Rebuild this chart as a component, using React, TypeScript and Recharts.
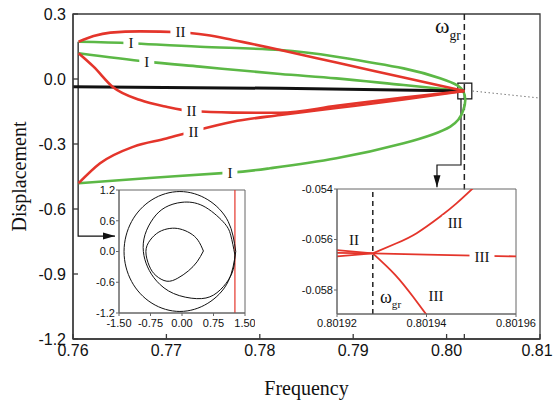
import React from "react";
import {
  ComposedChart,
  Line,
  Scatter,
  XAxis,
  YAxis,
  ReferenceLine,
  ReferenceArea,
  ReferenceDot,
} from "recharts";

const RED = "#e4352b";
const GREEN = "#5cb846";
const AXIS = "#3a3a3a";
const SERIF = "'Liberation Serif', 'Times New Roman', serif";
const SANS = "'Liberation Sans', Arial, sans-serif";

// main plot ticks
const xTicks = [0.76, 0.77, 0.78, 0.79, 0.8, 0.81, 0.8019];
const yTicks = [0.3, 0, -0.3, -0.6, -0.9, -1.2];
const omegaGr = 0.8019;

// branches of the frequency response
const redUpperII = [
  { x: 0.7606, y: 0.172 }, { x: 0.7622, y: 0.198 }, { x: 0.764, y: 0.214 },
  { x: 0.7672, y: 0.22 }, { x: 0.7715, y: 0.216 }, { x: 0.7743, y: 0.203 },
  { x: 0.7771, y: 0.18 }, { x: 0.7822, y: 0.134 }, { x: 0.7882, y: 0.076 },
  { x: 0.7954, y: 0.007 }, { x: 0.8019, y: -0.0555 },
];
const redLowerIIa = [
  { x: 0.7606, y: 0.119 }, { x: 0.7622, y: 0.057 }, { x: 0.7643, y: -0.038 },
  { x: 0.7672, y: -0.097 }, { x: 0.77, y: -0.128 }, { x: 0.7727, y: -0.148 },
  { x: 0.7771, y: -0.155 }, { x: 0.7822, y: -0.156 }, { x: 0.7882, y: -0.124 },
  { x: 0.7954, y: -0.086 }, { x: 0.8019, y: -0.0555 },
];
const redLowerIIb = [
  { x: 0.7606, y: -0.481 }, { x: 0.7629, y: -0.389 }, { x: 0.7665, y: -0.312 },
  { x: 0.77, y: -0.275 }, { x: 0.7727, y: -0.243 }, { x: 0.7771, y: -0.197 },
  { x: 0.7822, y: -0.166 }, { x: 0.7882, y: -0.134 }, { x: 0.7954, y: -0.095 },
  { x: 0.8019, y: -0.0555 },
];
const greenOuterI = [
  { x: 0.7606, y: 0.172 }, { x: 0.7662, y: 0.165 }, { x: 0.7736, y: 0.149 },
  { x: 0.7822, y: 0.134 }, { x: 0.7882, y: 0.103 }, { x: 0.7954, y: 0.049 },
  { x: 0.7993, y: 0.003 }, { x: 0.8011, y: -0.028 }, { x: 0.8018, y: -0.058 },
  { x: 0.802, y: -0.097 }, { x: 0.8018, y: -0.143 }, { x: 0.8004, y: -0.22 },
  { x: 0.7954, y: -0.297 }, { x: 0.7882, y: -0.366 }, { x: 0.7811, y: -0.412 },
  { x: 0.7768, y: -0.432 }, { x: 0.7682, y: -0.457 }, { x: 0.7606, y: -0.481 },
];
const greenInnerI = [
  { x: 0.7606, y: 0.119 }, { x: 0.7679, y: 0.08 }, { x: 0.7736, y: 0.057 },
  { x: 0.7822, y: 0.023 }, { x: 0.7882, y: 0.003 }, { x: 0.7954, y: -0.028 },
  { x: 0.8019, y: -0.0555 },
];
const blackBranch = [{ x: 0.76, y: -0.036 }, { x: 0.7822, y: -0.043 }, { x: 0.8019, y: -0.0555 }];
const dottedBranch = [{ x: 0.8028, y: -0.0556 }, { x: 0.81, y: -0.088 }];

const mainLabels = [
  { x: 0.7715, y: 0.2155, text: "II" },
  { x: 0.7727, y: -0.148, text: "II" },
  { x: 0.7729, y: -0.243, text: "II" },
  { x: 0.7662, y: 0.165, text: "I" },
  { x: 0.7679, y: 0.08, text: "I" },
  { x: 0.7768, y: -0.432, text: "I" },
];
const mainOmega = [{ x: 0.79876, y: 0.212 }];

// annotation arrows
const leftArrow = [{ x: 0.76055, y: 0.172 }, { x: 0.76055, y: -0.725 }, { x: 0.7645, y: -0.725 }];
const rightArrow = [
  { x: 0.80154, y: -0.0923 }, { x: 0.80154, y: -0.397 },
  { x: 0.79897, y: -0.397 }, { x: 0.79897, y: -0.5 },
];

// inset 1: phase portrait
const phaseXTicks = [-1.5, -0.75, 0, 0.75, 1.5];
const phaseYTicks = [-1.2, -0.6, 0, 0.6, 1.2];
const sectionX = 1.26;
const outerLoop = [
  { x: 1.28, y: 0 }, { x: 1.1, y: 0.585 }, { x: 0.615, y: 1.01 }, { x: -0.05, y: 1.17 },
  { x: -0.715, y: 1.01 }, { x: -1.2, y: 0.585 }, { x: -1.38, y: 0 }, { x: -1.2, y: -0.585 },
  { x: -0.715, y: -1.01 }, { x: -0.05, y: -1.17 }, { x: 0.615, y: -1.01 }, { x: 1.1, y: -0.585 },
  { x: 1.28, y: 0 },
];
const middleLoop = [
  { x: 1.26, y: -0.07 }, { x: 1.16, y: 0.32 }, { x: 0.98, y: 0.58 }, { x: 0.5, y: 0.89 },
  { x: 0.0, y: 0.96 }, { x: -0.4, y: 0.86 }, { x: -0.68, y: 0.65 }, { x: -0.88, y: 0.33 },
  { x: -0.92, y: 0.0 }, { x: -0.82, y: -0.3 }, { x: -0.6, y: -0.58 }, { x: -0.2, y: -0.82 },
  { x: 0.35, y: -0.92 }, { x: 0.75, y: -0.85 }, { x: 1.05, y: -0.62 }, { x: 1.22, y: -0.35 },
  { x: 1.26, y: -0.07 },
];
const innerLoop = [
  { x: 0.51, y: 0.01 }, { x: 0.38, y: 0.22 }, { x: 0.19, y: 0.36 }, { x: -0.05, y: 0.44 },
  { x: -0.29, y: 0.45 }, { x: -0.55, y: 0.38 }, { x: -0.76, y: 0.22 }, { x: -0.86, y: 0.0 },
  { x: -0.78, y: -0.28 }, { x: -0.62, y: -0.47 }, { x: -0.36, y: -0.58 }, { x: -0.1, y: -0.52 },
  { x: 0.15, y: -0.38 }, { x: 0.36, y: -0.2 }, { x: 0.51, y: 0.01 },
];

// inset 2: zoom around omega_gr
const zoomXTicks = [0.80192, 0.80194, 0.80196];
const zoomYTicks = [-0.054, -0.056, -0.058];
const zoomOmega = 0.801928;
const zoomIIa = [{ x: 0.80192, y: -0.05642 }, { x: 0.801928, y: -0.05655 }];
const zoomIIb = [{ x: 0.80192, y: -0.05653 }, { x: 0.801928, y: -0.05655 }];
const zoomIIc = [{ x: 0.80192, y: -0.05667 }, { x: 0.801928, y: -0.05655 }];
const zoomIIIup = [
  { x: 0.801928, y: -0.05655 }, { x: 0.8019333, y: -0.05615 }, { x: 0.8019378, y: -0.05575 },
  { x: 0.801943, y: -0.0551 }, { x: 0.8019467, y: -0.05457 }, { x: 0.8019505, y: -0.05395 },
];
const zoomIIImid = [{ x: 0.801928, y: -0.05655 }, { x: 0.80194, y: -0.0566 }, { x: 0.80196, y: -0.05667 }];
const zoomIIIlow = [
  { x: 0.801928, y: -0.05655 }, { x: 0.801933, y: -0.0574 },
  { x: 0.801937, y: -0.05827 }, { x: 0.8019405, y: -0.0591 },
];
const zoomLabels = [
  { x: 0.8019238, y: -0.05602, text: "II" },
  { x: 0.8019464, y: -0.05535, text: "III" },
  { x: 0.8019524, y: -0.05669, text: "III" },
  { x: 0.8019421, y: -0.05824, text: "III" },
];
const zoomOmegaLabel = [{ x: 0.8019296, y: -0.058515 }];

const CurveLabel = (props: any) => {
  const { cx, cy, payload } = props;
  const w = payload.text.length * 5 + 10;
  return (
    <g>
      <rect x={cx - w / 2} y={cy - 8} width={w} height={16} fill="#fff" />
      <text x={cx} y={cy + 5} textAnchor="middle" fontFamily={SERIF} fontSize={15} fill="#111">
        {payload.text}
      </text>
    </g>
  );
};

const omegaShape = (fs: number) => (props: any) => {
  const { cx, cy } = props;
  return (
    <text x={cx} y={cy} fontFamily={SERIF} fontSize={fs} fill="#111">
      ω
      <tspan fontSize={fs * 0.62} dy={fs * 0.3}>gr</tspan>
    </text>
  );
};

const ArrowRight = (props: any) => (
  <path d={`M${props.cx - 12},${props.cy - 3.5} L${props.cx},${props.cy} L${props.cx - 12},${props.cy + 3.5} Z`} fill="#111" />
);
const ArrowDown = (props: any) => (
  <path d={`M${props.cx - 3.5},${props.cy - 12} L${props.cx},${props.cy} L${props.cx + 3.5},${props.cy - 12} Z`} fill="#111" />
);

const YTitle = (props: any) => {
  const vb = props.viewBox;
  const cx = 19;
  const cy = vb ? vb.y + vb.height / 2 : 176;
  return (
    <text x={cx} y={cy} transform={`rotate(-90 ${cx} ${cy})`} textAnchor="middle" dominantBaseline="central" fontFamily={SERIF} fontSize={20} fill="#111">
      Displacement
    </text>
  );
};

// bottom ticks: the omega_gr tick has no label, the last label is nudged inside the page
const MainXTick = (props: any) => {
  const { x, y, payload } = props;
  if (payload.value === omegaGr) return null;
  const dx = payload.value === 0.81 ? -3 : 0;
  return (
    <text x={x + dx} y={y} dy="0.71em" textAnchor="middle" fontFamily={SANS} fontSize={16} fill="#111">
      {payload.value.toFixed(2)}
    </text>
  );
};

const mainTick = { fontFamily: SANS, fontSize: 16, fill: "#111" };
const smallTick = { fontFamily: SANS, fontSize: 11, fill: "#111" };

export default function App() {
  return (
    <div style={{ position: "absolute", left: 0, top: 0, width: 554, height: 403, background: "#fff" }}>
      <ComposedChart width={554} height={403} margin={{ top: 14, right: 14, left: 0, bottom: 8 }}>
        <XAxis
          type="number"
          dataKey="x"
          domain={[0.76, 0.81]}
          ticks={xTicks}
          interval={0}
          height={56}
          tickSize={-5}
          tickMargin={11}
          tick={<MainXTick />}
          stroke={AXIS}
          strokeWidth={1.3}
          label={{ value: "Frequency", position: "insideBottom", offset: 0, fontFamily: SERIF, fontSize: 20, fill: "#111" }}
        />
        <YAxis
          type="number"
          dataKey="y"
          domain={[-1.2, 0.3]}
          ticks={yTicks}
          interval={0}
          tickFormatter={(v: number) => v.toFixed(1)}
          width={73}
          tickSize={-5}
          tickMargin={12}
          tick={mainTick}
          stroke={AXIS}
          strokeWidth={1.3}
          label={<YTitle />}
        />
        <ReferenceArea x1={0.76} x2={0.81} y1={-1.2} y2={0.3} fill="none" stroke={AXIS} strokeWidth={1.3} />
        <ReferenceLine
          segment={[{ x: omegaGr, y: 0.3 }, { x: omegaGr, y: -0.51 }]}
          stroke="#222"
          strokeWidth={1.5}
          strokeDasharray="6 4"
        />
        <Line data={leftArrow} dataKey="y" type="linear" stroke="#111" strokeWidth={1.2} dot={false} isAnimationActive={false} />
        <Line data={rightArrow} dataKey="y" type="linear" stroke="#111" strokeWidth={1.2} dot={false} isAnimationActive={false} />
        <Line data={greenOuterI} dataKey="y" type="natural" stroke={GREEN} strokeWidth={2.6} dot={false} isAnimationActive={false} />
        <Line data={greenInnerI} dataKey="y" type="monotone" stroke={GREEN} strokeWidth={2.6} dot={false} isAnimationActive={false} />
        <Line data={blackBranch} dataKey="y" type="linear" stroke="#111" strokeWidth={3} dot={false} isAnimationActive={false} />
        <Line data={dottedBranch} dataKey="y" type="linear" stroke="#333" strokeWidth={1} strokeDasharray="1 3" dot={false} isAnimationActive={false} />
        <Line data={redUpperII} dataKey="y" type="monotone" stroke={RED} strokeWidth={2.6} dot={false} isAnimationActive={false} />
        <Line data={redLowerIIa} dataKey="y" type="monotone" stroke={RED} strokeWidth={2.6} dot={false} isAnimationActive={false} />
        <Line data={redLowerIIb} dataKey="y" type="monotone" stroke={RED} strokeWidth={2.6} dot={false} isAnimationActive={false} />
        <ReferenceArea x1={0.8012} x2={0.8027} y1={-0.092} y2={-0.019} fill="none" stroke="#111" strokeWidth={1.2} />
        <ReferenceDot x={0.7645} y={-0.725} r={0} shape={ArrowRight} />
        <ReferenceDot x={0.79897} y={-0.5} r={0} shape={ArrowDown} />
        <Scatter data={mainLabels} dataKey="y" shape={CurveLabel} isAnimationActive={false} />
        <Scatter data={mainOmega} dataKey="y" shape={omegaShape(22)} isAnimationActive={false} />
      </ComposedChart>

      <div style={{ position: "absolute", left: 94, top: 184 }}>
        <ComposedChart width={161} height={149} margin={{ top: 6, right: 10, left: 0, bottom: 0 }}>
          <XAxis
            type="number"
            dataKey="x"
            domain={[-1.5, 1.5]}
            ticks={phaseXTicks}
            tickFormatter={(v: number) => v.toFixed(2)}
            height={20}
            tickSize={3}
            tickMargin={3}
            tick={smallTick}
            stroke="#666"
            interval={0}
          />
          <YAxis
            type="number"
            dataKey="y"
            domain={[-1.2, 1.2]}
            ticks={phaseYTicks}
            tickFormatter={(v: number) => v.toFixed(1)}
            width={25}
            tickSize={3}
            tickMargin={1}
            tick={smallTick}
            stroke="#666"
            interval={0}
          />
          <ReferenceArea x1={-1.5} x2={1.5} y1={-1.2} y2={1.2} fill="none" stroke="#666" strokeWidth={1} />
          <ReferenceLine x={sectionX} stroke={RED} strokeWidth={1.2} />
          <Line data={outerLoop} dataKey="y" type="natural" stroke="#111" strokeWidth={1} dot={false} isAnimationActive={false} />
          <Line data={middleLoop} dataKey="y" type="natural" stroke="#111" strokeWidth={1} dot={false} isAnimationActive={false} />
          <Line data={innerLoop} dataKey="y" type="natural" stroke="#111" strokeWidth={1} dot={false} isAnimationActive={false} />
        </ComposedChart>
      </div>

      <div style={{ position: "absolute", left: 297, top: 183 }}>
        <ComposedChart width={244} height={151} margin={{ top: 6, right: 25, left: 0, bottom: 0 }}>
          <XAxis
            type="number"
            dataKey="x"
            domain={[0.80192, 0.80196]}
            ticks={zoomXTicks}
            tickFormatter={(v: number) => v.toFixed(5)}
            height={20}
            tickSize={3}
            tickMargin={2}
            tick={smallTick}
            stroke="#666"
            interval={0}
            allowDataOverflow
          />
          <YAxis
            type="number"
            dataKey="y"
            domain={[-0.05895, -0.054]}
            ticks={zoomYTicks}
            tickFormatter={(v: number) => v.toFixed(3)}
            width={40}
            tickSize={3}
            tickMargin={1}
            tick={smallTick}
            stroke="#666"
            interval={0}
            allowDataOverflow
          />
          <ReferenceArea x1={0.80192} x2={0.80196} y1={-0.05895} y2={-0.054} fill="none" stroke="#666" strokeWidth={1} />
          <ReferenceLine x={zoomOmega} stroke="#222" strokeWidth={1.5} strokeDasharray="5 4" />
          <Line data={zoomIIa} dataKey="y" type="linear" stroke={RED} strokeWidth={1.6} dot={false} isAnimationActive={false} />
          <Line data={zoomIIb} dataKey="y" type="linear" stroke={RED} strokeWidth={1.6} dot={false} isAnimationActive={false} />
          <Line data={zoomIIc} dataKey="y" type="linear" stroke={RED} strokeWidth={1.6} dot={false} isAnimationActive={false} />
          <Line data={zoomIIIup} dataKey="y" type="natural" stroke={RED} strokeWidth={1.8} dot={false} isAnimationActive={false} />
          <Line data={zoomIIImid} dataKey="y" type="linear" stroke={RED} strokeWidth={1.8} dot={false} isAnimationActive={false} />
          <Line data={zoomIIIlow} dataKey="y" type="natural" stroke={RED} strokeWidth={1.8} dot={false} isAnimationActive={false} />
          <Scatter data={zoomLabels} dataKey="y" shape={CurveLabel} isAnimationActive={false} />
          <Scatter data={zoomOmegaLabel} dataKey="y" shape={omegaShape(18)} isAnimationActive={false} />
        </ComposedChart>
      </div>
    </div>
  );
}
